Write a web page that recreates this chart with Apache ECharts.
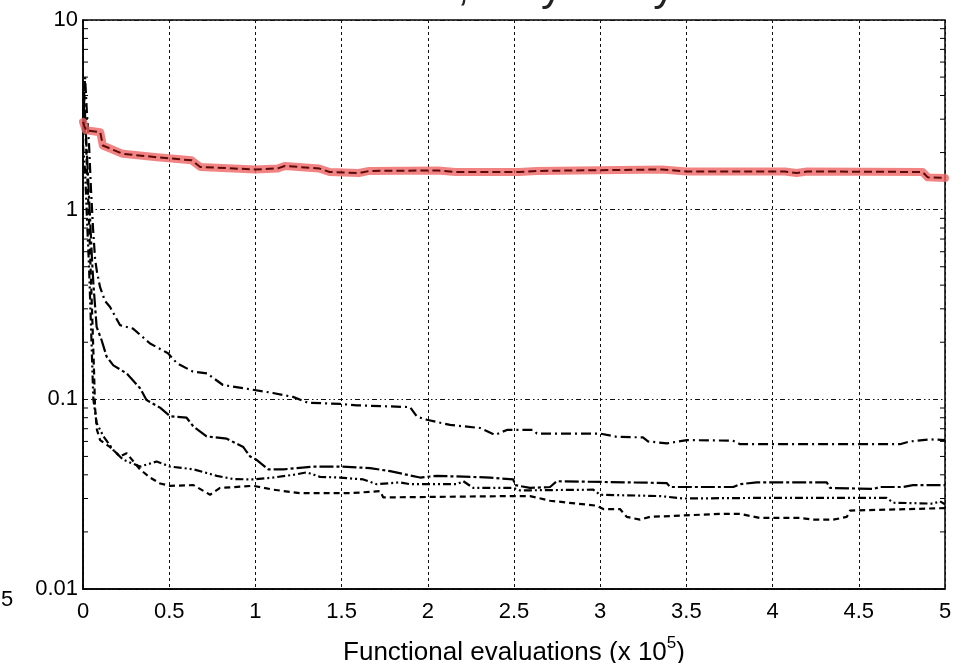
<!DOCTYPE html>
<html>
<head>
<meta charset="utf-8">
<script src="https://cdn.jsdelivr.net/npm/echarts@6/dist/echarts.min.js"></script>
<style>
  html, body { margin: 0; padding: 0; background: #fff; }
  #chart { width: 966px; height: 663px; }
</style>
</head>
<body>
<div id="chart"></div>
<script>
// Best objective value vs. function evaluations (x 1e5), log scale.
const xTicks = [0, 0.5, 1, 1.5, 2, 2.5, 3, 3.5, 4, 4.5, 5];
const yTicks = [0.01, 0.1, 1, 10];

// Highlighted run (drawn as a red band with a dark dashed core)
const redRun = [
  [0, 2.9], [0.017, 2.62], [0.10, 2.56], [0.115, 2.18], [0.23, 1.97], [0.43, 1.89],
  [0.63, 1.82], [0.68, 1.68], [1.0, 1.63], [1.13, 1.65], [1.17, 1.70], [1.37, 1.65],
  [1.43, 1.58], [1.60, 1.56], [1.66, 1.60], [2.06, 1.61], [2.16, 1.58], [2.53, 1.58],
  [2.63, 1.60], [3.36, 1.63], [3.50, 1.59], [4.07, 1.59], [4.14, 1.56], [4.20, 1.59],
  [4.87, 1.58], [4.90, 1.48], [5.0, 1.47]
];

// Dash-dot run
const runA = [
  [0, 2.6], [0.012, 5.0], [0.023, 3.2], [0.035, 2.2], [0.046, 1.3], [0.058, 0.8],
  [0.07, 0.55], [0.081, 0.47], [0.099, 0.39], [0.128, 0.33], [0.157, 0.307],
  [0.215, 0.246], [0.29, 0.236], [0.389, 0.197], [0.493, 0.175], [0.545, 0.155],
  [0.638, 0.140], [0.719, 0.137], [0.812, 0.119], [0.969, 0.113], [1.102, 0.108],
  [1.218, 0.103], [1.305, 0.096], [1.49, 0.0946], [1.589, 0.093], [1.897, 0.091],
  [1.937, 0.081], [1.995, 0.078], [2.129, 0.0733], [2.303, 0.0706], [2.39, 0.065],
  [2.459, 0.069], [2.61, 0.069], [2.633, 0.066], [2.999, 0.066], [3.097, 0.0634],
  [3.248, 0.063], [3.277, 0.060], [3.387, 0.0586], [3.503, 0.061], [3.77, 0.0605],
  [3.811, 0.058], [4.739, 0.058], [4.797, 0.060], [4.913, 0.0615], [5.0, 0.061]
];

// Long-dash run
const runB = [
  [0, 3.0], [0.006, 4.2], [0.017, 2.5], [0.029, 1.5], [0.041, 0.9], [0.052, 0.55],
  [0.06, 0.41], [0.079, 0.241], [0.108, 0.205], [0.137, 0.168], [0.176, 0.151],
  [0.253, 0.137], [0.331, 0.1145], [0.369, 0.099], [0.447, 0.0904], [0.505, 0.0815],
  [0.601, 0.080], [0.640, 0.072], [0.717, 0.0638], [0.834, 0.062], [0.93, 0.056],
  [0.969, 0.050], [1.007, 0.048], [1.075, 0.0427], [1.162, 0.0427], [1.24, 0.0434],
  [1.336, 0.0442], [1.491, 0.0442], [1.665, 0.0434], [1.781, 0.0418], [1.955, 0.0387],
  [2.052, 0.0395], [2.361, 0.0387], [2.496, 0.0378], [2.506, 0.0353], [2.593, 0.0341],
  [2.709, 0.0345], [2.748, 0.037], [3.386, 0.0362], [3.405, 0.0345], [3.772, 0.0345],
  [3.811, 0.0357], [3.908, 0.0365], [4.314, 0.0365], [4.333, 0.0341], [4.584, 0.0337],
  [4.623, 0.0345], [4.756, 0.0345], [4.814, 0.0353], [5.0, 0.0353]
];

// Dash-dot-dot run
const runC = [
  [0, 2.2], [0.012, 1.6], [0.023, 0.9], [0.035, 0.5], [0.046, 0.25], [0.06, 0.1],
  [0.079, 0.075], [0.118, 0.064], [0.176, 0.054], [0.234, 0.048], [0.331, 0.0442],
  [0.427, 0.047], [0.505, 0.0442], [0.64, 0.0428], [0.776, 0.0395], [0.872, 0.038],
  [0.988, 0.0378], [1.104, 0.0387], [1.22, 0.040], [1.298, 0.0412], [1.375, 0.039],
  [1.491, 0.0387], [1.626, 0.0378], [1.704, 0.0357], [1.839, 0.0365], [1.897, 0.0357],
  [2.168, 0.0357], [2.206, 0.037], [2.264, 0.0341], [2.496, 0.0341], [2.535, 0.0331],
  [2.96, 0.0334], [2.999, 0.0314], [3.347, 0.0309], [3.482, 0.030], [3.869, 0.0302],
  [4.662, 0.0302], [4.70, 0.0285], [4.932, 0.0282], [4.971, 0.029], [5.0, 0.028]
];

// Short-dash run
const runD = [
  [0, 3.4], [0.017, 2.3], [0.029, 1.2], [0.041, 0.6], [0.052, 0.3], [0.064, 0.14],
  [0.07, 0.09], [0.081, 0.069], [0.099, 0.061], [0.157, 0.056], [0.215, 0.050],
  [0.253, 0.052], [0.331, 0.0427], [0.389, 0.0387], [0.447, 0.036], [0.505, 0.035],
  [0.64, 0.0353], [0.737, 0.0314], [0.795, 0.0341], [0.988, 0.035], [1.104, 0.0334],
  [1.259, 0.032], [1.549, 0.032], [1.723, 0.0328], [1.742, 0.0304], [2.496, 0.0309],
  [2.593, 0.0309], [2.709, 0.0292], [2.864, 0.0282], [2.98, 0.0275], [3.018, 0.0264],
  [3.115, 0.0264], [3.154, 0.024], [3.231, 0.0232], [3.289, 0.024], [3.695, 0.0249],
  [3.811, 0.0249], [3.927, 0.0237], [4.159, 0.0237], [4.236, 0.0232], [4.352, 0.0232],
  [4.43, 0.024], [4.449, 0.0259], [5.0, 0.0267]
];

// Minor log ticks: 2..9 within each decade
const decades = [0.01, 0.1, 1];
const minorMultipliers = [2, 3, 4, 5, 6, 7, 8, 9];
const minorTickValues = [];
decades.forEach(d => minorMultipliers.forEach(m => minorTickValues.push([+(d * m).toPrecision(3)])));

const FONT = '"Liberation Sans Narrow", "Liberation Sans", Arial, sans-serif';

function blackRun(data, dash) {
  return {
    type: 'line', data: data, showSymbol: false, symbol: 'none', silent: true,
    lineStyle: { color: '#000', width: 2.2, type: dash }, z: 3
  };
}

const chart = echarts.init(document.getElementById('chart'), null, { renderer: 'canvas' });

chart.setOption({
  backgroundColor: '#fff',
  animation: false,
  title: {
    text: 'Simulations, very noisy',
    left: 230, top: -38,
    textStyle: { fontFamily: FONT, fontSize: 43, fontWeight: 'normal', color: '#222' }
  },
  grid: {
    left: 83, right: 21, top: 20, bottom: 74,
    outerBoundsMode: 'none', containLabel: false,
    show: true, borderColor: '#000', borderWidth: 1.5, backgroundColor: '#fff'
  },
  xAxis: {
    type: 'value', min: 0, max: 5, interval: 0.5,
    name: 'Functional evaluations (x 10{sup|5})',
    nameLocation: 'middle', nameGap: 46,
    nameTextStyle: {
      fontFamily: FONT, fontSize: 26, color: '#000',
      rich: { sup: { fontFamily: FONT, fontSize: 17, verticalAlign: 'bottom', padding: [0, 0, 18, 0], color: '#000' } }
    },
    axisLine: { show: true, lineStyle: { color: '#000', width: 1.5 } },
    axisTick: { show: false },
    axisLabel: {
      fontFamily: FONT, fontSize: 22, color: '#000', margin: 12,
      formatter: v => xTicks.includes(v) ? String(v) : ''
    },
    splitLine: { show: true, lineStyle: { color: '#111', width: 1, type: [3, 3] } }
  },
  yAxis: {
    type: 'log', logBase: 10, min: 0.01, max: 10,
    axisLine: { show: true, lineStyle: { color: '#000', width: 1.5 } },
    axisTick: { show: false },
    axisLabel: {
      fontFamily: FONT, fontSize: 22, color: '#000', margin: 5,
      formatter: v => {
        const t = yTicks.find(k => Math.abs(k - v) / k < 1e-6);
        return t === undefined ? '' : String(t);
      }
    },
    splitLine: { show: true, lineStyle: { color: '#111', width: 1, type: [5, 3, 1.5, 3, 1.5, 3] } }
  },
  graphic: [
    { type: 'text', left: 1, top: 589, style: { text: '5', font: '22px ' + FONT, fill: '#000' } }
  ],
  series: [
    {
      // minor ticks on left and right edges
      type: 'custom', silent: true, z: 4,
      data: minorTickValues,
      renderItem: function (params, api) {
        const v = api.value(0);
        const l = api.coord([0, v]);
        const r = api.coord([5, v]);
        const style = { stroke: '#000', lineWidth: 1 };
        return {
          type: 'group',
          children: [
            { type: 'line', shape: { x1: l[0], y1: l[1], x2: l[0] + 5, y2: l[1] }, style: style },
            { type: 'line', shape: { x1: r[0] - 5, y1: r[1], x2: r[0], y2: r[1] }, style: style }
          ]
        };
      },
      encode: { y: 0 }
    },
    blackRun(runA, [10, 4, 2, 4]),
    blackRun(runB, [14, 3, 3, 3]),
    blackRun(runC, [8, 3, 2, 3, 2, 3]),
    blackRun(runD, [6, 4]),
    {
      type: 'line', data: redRun, showSymbol: false, symbol: 'none', silent: true, z: 5,
      lineStyle: { color: 'rgba(238, 100, 100, 0.8)', width: 8, cap: 'round', join: 'round' }
    },
    {
      type: 'line', data: redRun, showSymbol: false, symbol: 'none', silent: true, z: 6,
      lineStyle: { color: '#5a0a0a', width: 2, type: [8, 4] }
    }
  ]
});
</script>
</body>
</html>
